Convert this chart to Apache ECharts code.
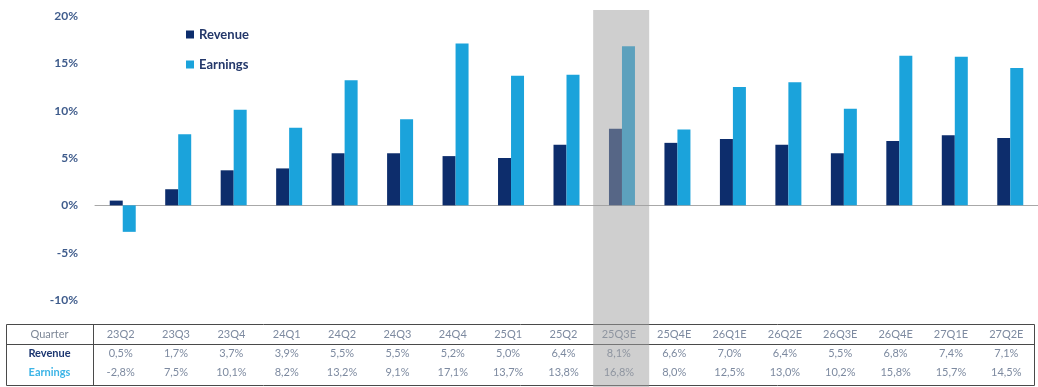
<!DOCTYPE html>
<html>
<head>
<meta charset="utf-8">
<script src="https://cdn.jsdelivr.net/npm/echarts@6/dist/echarts.min.js"></script>
<style>
  html, body { margin: 0; padding: 0; background: #ffffff; }
  #chart { width: 1038px; height: 387px; }
</style>
</head>
<body>
<div id="chart"></div>
<script>
// Quarterly growth: revenue vs earnings (year over year, %)
const quarters = ['23Q2','23Q3','23Q4','24Q1','24Q2','24Q3','24Q4','25Q1','25Q2','25Q3E','25Q4E','26Q1E','26Q2E','26Q3E','26Q4E','27Q1E','27Q2E'];
const revenue  = [0.5, 1.7, 3.7, 3.9, 5.5, 5.5, 5.2, 5.0, 6.4, 8.1, 6.6, 7.0, 6.4, 5.5, 6.8, 7.4, 7.1];
const earnings = [-2.8, 7.5, 10.1, 8.2, 13.2, 9.1, 17.1, 13.7, 13.8, 16.8, 8.0, 12.5, 13.0, 10.2, 15.8, 15.7, 14.5];
const rowTitles = ['Quarter', 'Revenue', 'Earnings'];
const highlightQuarter = '25Q3E';

const NAVY = '#0d2d6c';
const SKY = '#1ba3db';
const LABEL = '#3f5c8c';
const CELL = '#7d8aa0';

const fmt = v => v.toFixed(1).replace('.', ',') + '%';

const chart = echarts.init(document.getElementById('chart'), null, { renderer: 'canvas' });

const option = {
  animation: false,
  backgroundColor: '#ffffff',
  grid: { left: 95, right: -6, top: 16, bottom: 87, containLabel: false },
  legend: {
    orient: 'vertical',
    left: 181,
    top: 23,
    itemWidth: 8,
    itemHeight: 8,
    itemGap: 17,
    icon: 'rect',
    textStyle: { fontFamily: 'Lato', fontSize: 13, fontWeight: 'bold', color: '#24386a' },
    data: ['Revenue', 'Earnings']
  },
  xAxis: {
    type: 'category',
    data: quarters,
    axisLine: { onZero: true, lineStyle: { color: '#a8a8a8', width: 1 } },
    axisTick: { show: false },
    axisLabel: { show: false },
    splitLine: { show: false }
  },
  yAxis: {
    type: 'value',
    min: -10,
    max: 20,
    interval: 5,
    axisLine: { show: false },
    axisTick: { show: false },
    splitLine: { show: false },
    axisLabel: {
      margin: 17,
      formatter: v => v + '%',
      fontFamily: 'Lato',
      fontWeight: 'bold',
      fontSize: 12,
      color: LABEL
    }
  },
  series: [
    {
      name: 'Revenue',
      type: 'bar',
      data: revenue,
      barWidth: 13,
      barGap: '0%',
      itemStyle: { color: NAVY }
    },
    {
      name: 'Earnings',
      type: 'bar',
      data: earnings,
      barWidth: 13,
      barGap: '0%',
      itemStyle: { color: SKY }
    }
  ]
};

chart.setOption(option);

// Data table under the plot, plus the shaded column for the highlighted quarter
function buildOverlay() {
  const tblLeft = 6, tblSplit = 93, tblRight = 1034;
  const tblTop = 324, headBottom = 344, tblBottom = 385;
  const colW = (tblRight - tblSplit) / quarters.length;
  const rowY = [334, 353, 372];
  const els = [];
  const line = (x1, y1, x2, y2) => ({
    type: 'line', z: 10, silent: true,
    shape: { x1, y1, x2, y2 },
    style: { stroke: '#4a4a4a', lineWidth: 1 }
  });
  els.push({
    type: 'rect', z: 10, silent: true,
    shape: { x: tblLeft + 0.5, y: tblTop + 0.5, width: tblRight - tblLeft, height: tblBottom - tblTop },
    style: { fill: 'none', stroke: '#4a4a4a', lineWidth: 1 }
  });
  els.push(line(tblSplit + 0.5, tblTop, tblSplit + 0.5, tblBottom));
  els.push(line(tblLeft, headBottom + 0.5, tblRight, headBottom + 0.5));

  const titleColors = ['#7d8796', '#1c3670', '#3cb4e6'];
  rowTitles.forEach((t, r) => {
    els.push({
      type: 'text', z: 11, silent: true,
      style: {
        x: (tblLeft + tblSplit) / 2, y: rowY[r], text: t,
        align: 'center', verticalAlign: 'middle',
        font: (r === 0 ? 'normal 11px' : 'bold 11px') + ' Lato',
        fill: titleColors[r]
      }
    });
  });
  const rows = [quarters, revenue.map(fmt), earnings.map(fmt)];
  rows.forEach((vals, r) => {
    vals.forEach((v, i) => {
      els.push({
        type: 'text', z: 11, silent: true,
        style: {
          x: tblSplit + colW * (i + 0.5), y: rowY[r], text: v,
          align: 'center', verticalAlign: 'middle',
          font: 'normal 11px Lato',
          fill: CELL
        }
      });
    });
  });

  // shaded band over the highlighted quarter, running through plot and table
  const hi = quarters.indexOf(highlightQuarter);
  const bandX = tblSplit + colW * hi + 2;
  els.push({
    type: 'rect', z: 20, silent: true,
    shape: { x: bandX, y: 10, width: 56, height: 377 },
    style: { fill: 'rgba(160,160,160,0.5)' }
  });

  chart.setOption({ graphic: { elements: els } });
}
buildOverlay();
</script>
</body>
</html>
